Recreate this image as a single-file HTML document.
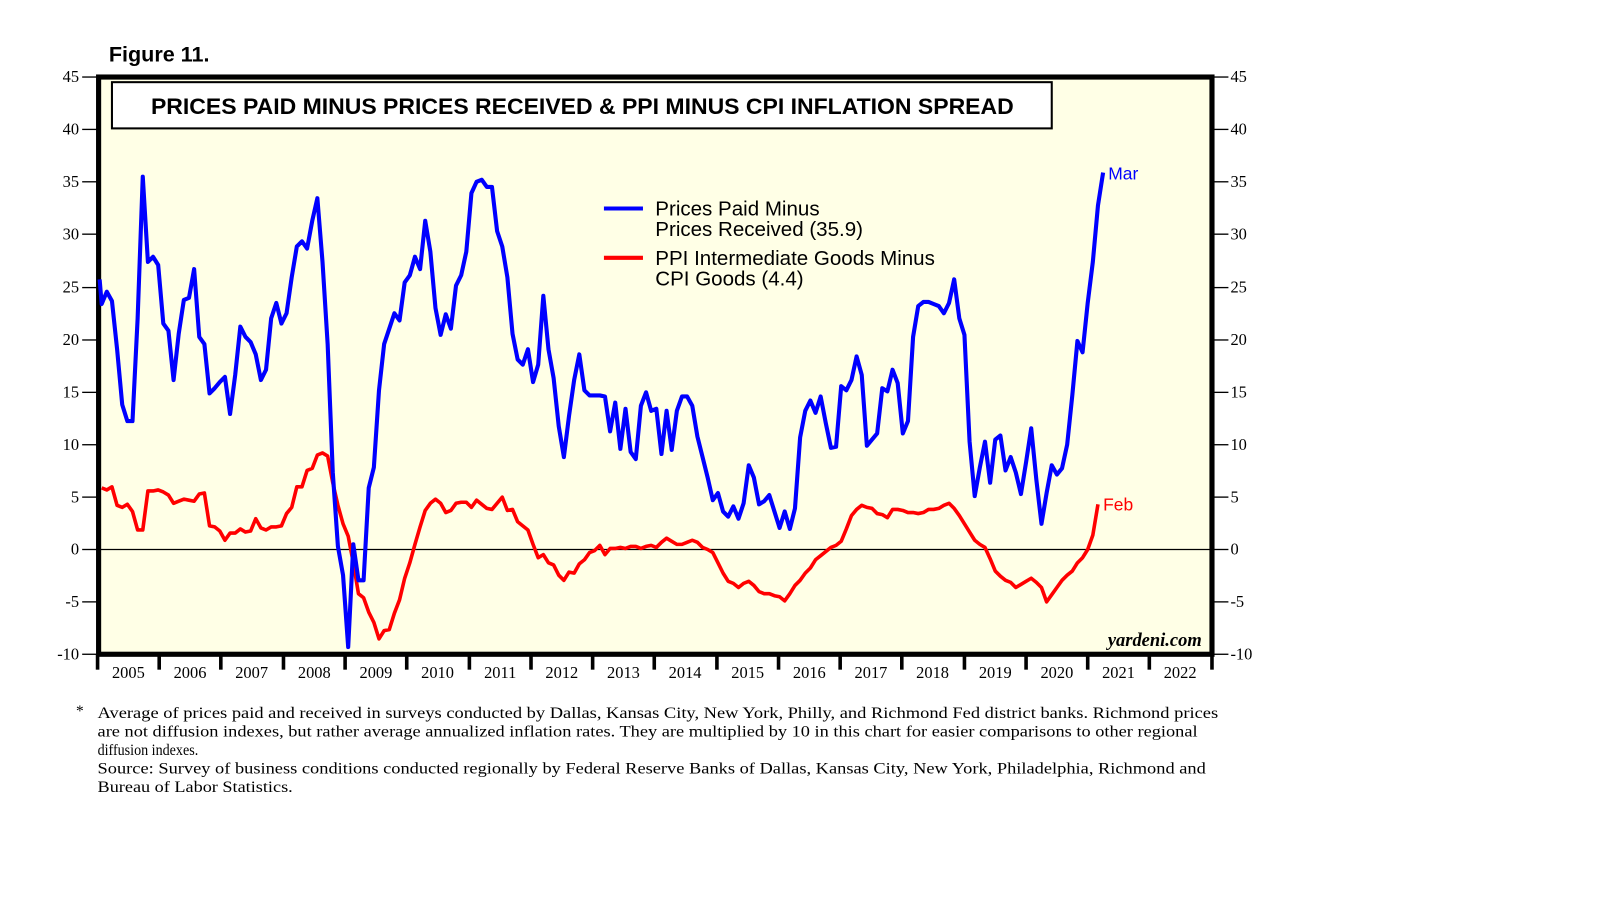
<!DOCTYPE html>
<html><head><meta charset="utf-8"><style>
body{margin:0;background:#fff;width:1610px;height:910px;overflow:hidden}
svg{display:block}
</style></head><body>
<svg width="1610" height="910" xmlns="http://www.w3.org/2000/svg">
<rect width="1610" height="910" fill="#fff"/>
<g transform="scale(1.0271)">
<text x="106" y="60" font-family="Liberation Sans, sans-serif" font-weight="bold" font-size="21">Figure 11.</text>
<rect x="96" y="75" width="1084" height="562" fill="#ffffe6" stroke="#000" stroke-width="5"/>
<rect x="109" y="80" width="915" height="45" fill="#fff" stroke="#000" stroke-width="2"/>
<text x="147" y="111" textLength="840" lengthAdjust="spacingAndGlyphs" font-family="Liberation Sans, sans-serif" font-weight="bold" font-size="22">PRICES PAID MINUS PRICES RECEIVED &amp; PPI MINUS CPI INFLATION SPREAD</text>
<line x1="97" y1="535" x2="1179" y2="535" stroke="#000" stroke-width="1.3"/>
<g font-family="Liberation Serif, serif" font-size="16" fill="#000">
<g stroke="#000" stroke-width="1.3">
<line x1="80" y1="75" x2="94" y2="75"/><line x1="80" y1="126" x2="94" y2="126"/><line x1="80" y1="177" x2="94" y2="177"/><line x1="80" y1="228" x2="94" y2="228"/><line x1="80" y1="280" x2="94" y2="280"/><line x1="80" y1="331" x2="94" y2="331"/><line x1="80" y1="382" x2="94" y2="382"/><line x1="80" y1="433" x2="94" y2="433"/><line x1="80" y1="484" x2="94" y2="484"/><line x1="80" y1="535" x2="94" y2="535"/><line x1="80" y1="586" x2="94" y2="586"/><line x1="80" y1="637" x2="94" y2="637"/>
<line x1="1182" y1="75" x2="1196" y2="75"/><line x1="1182" y1="126" x2="1196" y2="126"/><line x1="1182" y1="177" x2="1196" y2="177"/><line x1="1182" y1="228" x2="1196" y2="228"/><line x1="1182" y1="280" x2="1196" y2="280"/><line x1="1182" y1="331" x2="1196" y2="331"/><line x1="1182" y1="382" x2="1196" y2="382"/><line x1="1182" y1="433" x2="1196" y2="433"/><line x1="1182" y1="484" x2="1196" y2="484"/><line x1="1182" y1="535" x2="1196" y2="535"/><line x1="1182" y1="586" x2="1196" y2="586"/><line x1="1182" y1="637" x2="1196" y2="637"/>
</g>
<g text-anchor="end">
<text x="77" y="80">45</text><text x="77" y="131">40</text><text x="77" y="182">35</text><text x="77" y="233">30</text><text x="77" y="285">25</text><text x="77" y="336">20</text><text x="77" y="387">15</text><text x="77" y="438">10</text><text x="77" y="489">5</text><text x="77" y="540">0</text><text x="77" y="591">-5</text><text x="77" y="642">-10</text>
</g>
<g>
<text x="1198" y="80">45</text><text x="1198" y="131">40</text><text x="1198" y="182">35</text><text x="1198" y="233">30</text><text x="1198" y="285">25</text><text x="1198" y="336">20</text><text x="1198" y="387">15</text><text x="1198" y="438">10</text><text x="1198" y="489">5</text><text x="1198" y="540">0</text><text x="1198" y="591">-5</text><text x="1198" y="642">-10</text>
</g>
<g stroke="#000" stroke-width="3.5">
<line x1="95" y1="637" x2="95" y2="652"/><line x1="155" y1="637" x2="155" y2="652"/><line x1="215" y1="637" x2="215" y2="652"/><line x1="276" y1="637" x2="276" y2="652"/><line x1="336" y1="637" x2="336" y2="652"/><line x1="396" y1="637" x2="396" y2="652"/><line x1="457" y1="637" x2="457" y2="652"/><line x1="517" y1="637" x2="517" y2="652"/><line x1="577" y1="637" x2="577" y2="652"/><line x1="637" y1="637" x2="637" y2="652"/><line x1="698" y1="637" x2="698" y2="652"/><line x1="758" y1="637" x2="758" y2="652"/><line x1="818" y1="637" x2="818" y2="652"/><line x1="878" y1="637" x2="878" y2="652"/><line x1="939" y1="637" x2="939" y2="652"/><line x1="999" y1="637" x2="999" y2="652"/><line x1="1059" y1="637" x2="1059" y2="652"/><line x1="1119" y1="637" x2="1119" y2="652"/><line x1="1180" y1="637" x2="1180" y2="652"/>
</g>
<g text-anchor="middle">
<text x="125" y="660">2005</text><text x="185" y="660">2006</text><text x="245" y="660">2007</text><text x="306" y="660">2008</text><text x="366" y="660">2009</text><text x="426" y="660">2010</text><text x="487" y="660">2011</text><text x="547" y="660">2012</text><text x="607" y="660">2013</text><text x="667" y="660">2014</text><text x="728" y="660">2015</text><text x="788" y="660">2016</text><text x="848" y="660">2017</text><text x="908" y="660">2018</text><text x="969" y="660">2019</text><text x="1029" y="660">2020</text><text x="1089" y="660">2021</text><text x="1149" y="660">2022</text>
</g>
<text x="1170" y="629" text-anchor="end" font-style="italic" font-weight="bold" font-size="18">yardeni.com</text>
<g font-size="15">
<text x="74" y="697">*</text>
<text x="95" y="699" textLength="1091" lengthAdjust="spacingAndGlyphs">Average of prices paid and received in surveys conducted by Dallas, Kansas City, New York, Philly, and Richmond Fed district banks. Richmond prices</text>
<text x="95" y="717" textLength="1071" lengthAdjust="spacingAndGlyphs">are not diffusion indexes, but rather average annualized inflation rates. They are multiplied by 10 in this chart for easier comparisons to other regional</text>
<text x="95" y="735" textLength="98" lengthAdjust="spacingAndGlyphs">diffusion indexes.</text>
<text x="95" y="753" textLength="1079" lengthAdjust="spacingAndGlyphs">Source: Survey of business conditions conducted regionally by Federal Reserve Banks of Dallas, Kansas City, New York, Philadelphia, Richmond and</text>
<text x="95" y="771" textLength="190" lengthAdjust="spacingAndGlyphs">Bureau of Labor Statistics.</text>
</g>
</g>
<polyline fill="none" stroke="#ff0000" stroke-width="3.5" stroke-linejoin="round" points="99,475 104,477 109,474 114,492 119,494 124,491 129,498 134,516 139,516 144,478 149,478 154,477 159,479 164,482 169,490 174,488 179,486 184,487 189,488 194,481 199,480 204,512 209,513 214,517 219,526 224,519 229,519 234,515 239,518 244,517 249,505 254,514 259,516 264,513 269,513 274,512 279,500 284,494 289,474 294,474 299,458 304,456 309,443 314,441 319,444 324,470 329,492 334,510 339,522 344,548 349,578 354,582 359,596 364,606 369,622 374,614 379,613 384,597 389,584 394,563 399,548 404,530 409,513 414,497 419,490 424,486 429,490 434,499 439,497 444,490 449,489 454,489 459,494 464,487 469,491 474,495 479,496 484,490 489,484 494,497 499,496 504,508 509,512 514,516 519,530 524,543 529,540 534,548 539,550 544,560 549,565 554,557 559,558 564,549 569,545 574,538 579,536 584,531 589,540 594,534 599,534 604,533 609,534 614,532 619,532 624,534 629,532 634,531 639,533 644,528 649,524 654,527 659,530 664,530 669,528 674,526 679,528 684,533 689,535 694,538 699,548 704,558 709,566 714,568 719,572 724,568 729,566 734,570 739,576 744,578 749,578 754,580 759,581 764,585 769,578 774,570 779,565 784,558 789,553 794,545 799,541 804,537 809,533 814,531 819,527 824,515 829,502 834,496 839,492 844,494 849,495 854,500 859,501 864,504 869,496 874,496 879,497 884,499 889,499 894,500 899,499 904,496 909,496 914,495 919,492 924,490 929,495 934,502 939,510 944,518 949,526 954,530 959,533 964,544 969,556 974,561 979,565 984,567 989,572 994,569 999,566 1004,563 1009,567 1014,572 1019,586 1024,579 1029,572 1034,565 1039,560 1044,556 1049,548 1054,543 1059,535 1064,521 1069,491"/>
<polyline fill="none" stroke="#0000ff" stroke-width="4" stroke-linejoin="round" points="97,272 99,296 104,284 109,293 114,340 119,394 124,410 129,410 134,310 139,172 144,255 149,250 154,258 159,315 164,322 169,370 174,325 179,292 184,290 189,262 194,328 199,335 204,383 209,378 214,372 219,367 224,403 229,365 234,318 239,328 244,333 249,345 254,370 259,360 264,310 269,295 274,315 279,305 284,270 289,240 294,235 299,242 304,215 309,193 314,255 319,335 324,460 329,532 334,560 339,630 344,530 349,565 354,565 359,475 364,455 369,380 374,335 379,320 384,305 389,312 394,275 399,268 404,250 409,262 414,215 419,245 424,300 429,326 434,306 439,320 444,278 449,268 454,245 459,188 464,177 469,175 474,182 479,182 484,225 489,240 494,270 499,325 504,350 509,355 514,340 519,372 524,355 529,288 534,340 539,368 544,415 549,445 554,405 559,370 564,345 569,380 574,385 579,385 584,385 589,386 594,420 599,392 604,437 609,398 614,440 619,447 624,395 629,382 634,400 639,398 644,442 649,400 654,438 659,400 664,386 669,386 674,395 679,425 684,445 689,465 694,487 699,480 704,498 709,503 714,493 719,505 724,490 729,453 734,465 739,491 744,488 749,482 754,498 759,514 764,498 769,515 774,495 779,426 784,400 789,390 794,402 799,386 804,412 809,436 814,435 819,376 824,380 829,370 834,347 839,365 844,434 849,428 854,422 859,378 864,381 869,360 874,373 879,422 884,410 889,328 894,298 899,294 904,294 909,296 914,298 919,305 924,295 929,272 934,310 939,326 944,430 949,483 954,455 959,430 964,470 969,428 974,424 979,458 984,445 989,460 994,481 999,450 1004,417 1009,467 1014,510 1019,480 1024,453 1029,462 1034,456 1039,433 1044,385 1049,332 1054,343 1059,295 1064,255 1069,200 1074,168"/>
<g font-family="Liberation Sans, sans-serif" font-size="20">
<line x1="588" y1="203" x2="626" y2="203" stroke="#0000ff" stroke-width="4"/>
<text x="638" y="210">Prices Paid Minus</text>
<text x="638" y="230">Prices Received (35.9)</text>
<line x1="588" y1="251" x2="626" y2="251" stroke="#ff0000" stroke-width="4"/>
<text x="638" y="258">PPI Intermediate Goods Minus</text>
<text x="638" y="278">CPI Goods (4.4)</text>
<text x="1079" y="175" fill="#0000ff" font-size="17">Mar</text>
<text x="1074" y="497" fill="#ff0000" font-size="17">Feb</text>
</g>
</g>
</svg>
</body></html>
